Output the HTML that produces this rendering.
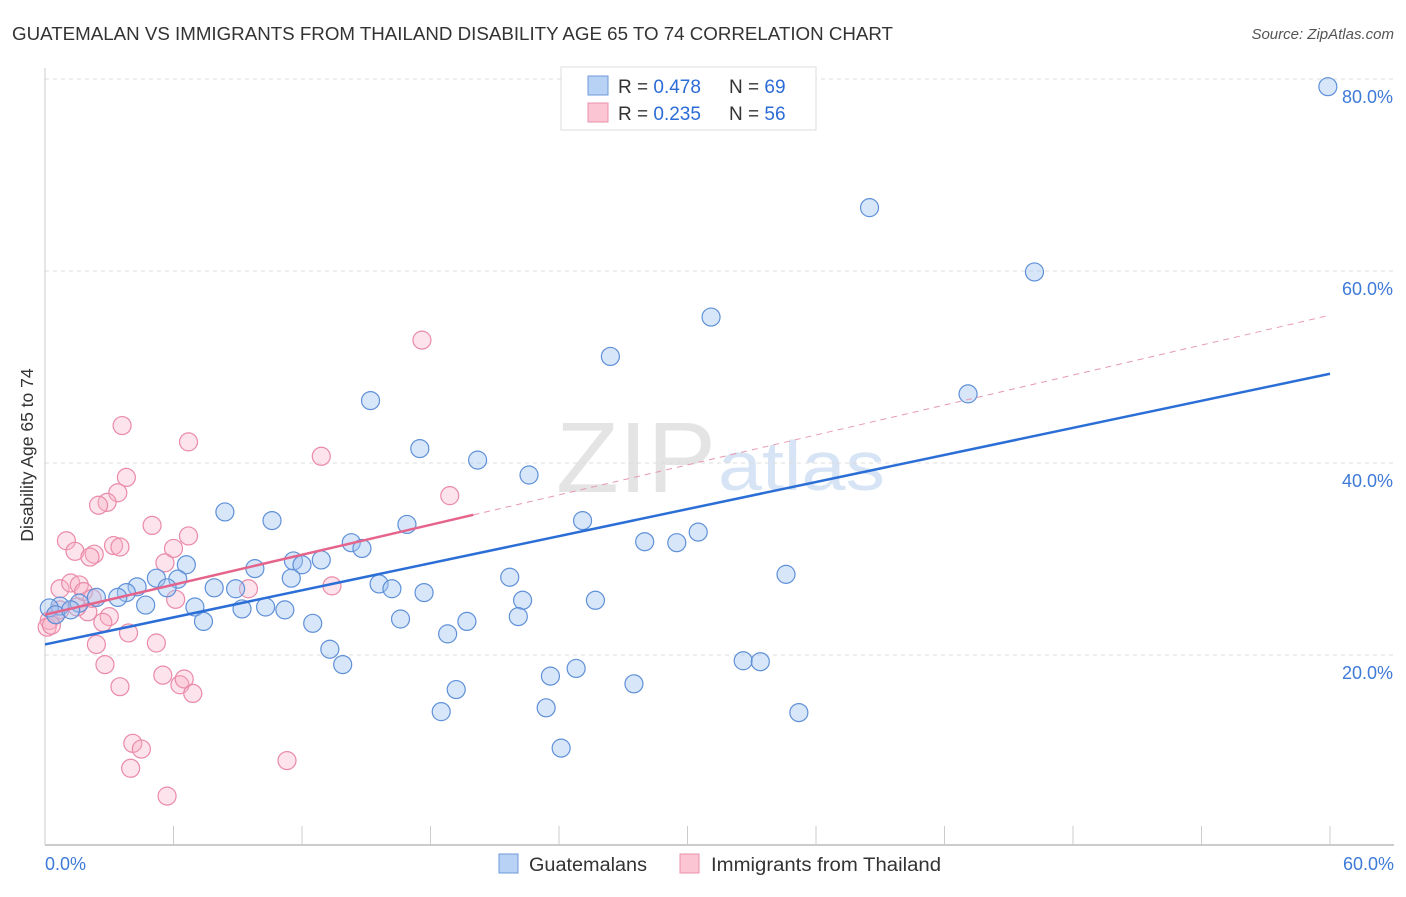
<!DOCTYPE html>
<html><head><meta charset="utf-8"><style>
body{margin:0;background:#fff;font-family:"Liberation Sans",sans-serif}
svg text{font-family:"Liberation Sans",sans-serif}
</style></head><body>
<svg id="c" width="1406" height="892" viewBox="0 0 1406 892" xmlns="http://www.w3.org/2000/svg">
<text x="12" y="40" font-size="18" textLength="881" lengthAdjust="spacingAndGlyphs" fill="#333">GUATEMALAN VS IMMIGRANTS FROM THAILAND DISABILITY AGE 65 TO 74 CORRELATION CHART</text>
<text x="1394" y="39" font-size="15" fill="#555" font-style="italic" text-anchor="end">Source: ZipAtlas.com</text>
<text x="716" y="492" font-size="100" fill="#e4e4e4" text-anchor="end" font-family="Liberation Serif" textLength="160" lengthAdjust="spacingAndGlyphs">ZIP</text>
<text x="718" y="490" font-size="70" fill="#d6e4f5" textLength="167" lengthAdjust="spacingAndGlyphs">atlas</text>
<g id="grid"></g>
<g id="axes"></g>
<g id="marks"></g>
<text transform="translate(33,455) rotate(-90)" font-size="17.5" fill="#333" text-anchor="middle">Disability Age 65 to 74</text>
<g>
<rect x="561" y="67" width="255" height="63" fill="#fff" stroke="#ddd"/>
<rect x="588" y="76" width="20" height="19" fill="#b8d2f5" stroke="#6e9ad8"/>
<text x="618" y="93" font-size="19" fill="#333">R = <tspan fill="#2b6cd6">0.478</tspan></text>
<text x="729" y="93" font-size="19" fill="#333">N = <tspan fill="#2b6cd6">69</tspan></text>
<rect x="588" y="103" width="20" height="19" fill="#fcc5d4" stroke="#e890aa"/>
<text x="618" y="120" font-size="19" fill="#333">R = <tspan fill="#2b6cd6">0.235</tspan></text>
<text x="729" y="120" font-size="19" fill="#333">N = <tspan fill="#2b6cd6">56</tspan></text>
</g>
<g>
<rect x="499" y="854" width="19" height="19" fill="#b8d2f5" stroke="#6e9ad8"/>
<text x="529" y="871" font-size="19" fill="#333" textLength="118" lengthAdjust="spacingAndGlyphs">Guatemalans</text>
<rect x="680" y="854" width="19" height="19" fill="#fcc5d4" stroke="#e890aa"/>
<text x="711" y="871" font-size="19" fill="#333" textLength="230" lengthAdjust="spacingAndGlyphs">Immigrants from Thailand</text>
</g>
</svg>
<script>
const xTicks=[0,6,12,18,24,30,36,42,48,54,60];
const yTicks=[20,40,60,80];
const blueX=[59.9,38.5,46.2,31.1,26.4,43.1,15.2,17.5,20.2,22.6,8.4,10.6,16.9,25.1,28.0,29.5,30.5,14.3,14.8,11.6,12.9,6.6,9.8,12.0,5.2,6.2,11.5,21.7,34.6,4.3,5.7,7.9,8.9,15.6,16.2,17.7,3.8,3.4,2.4,22.3,25.7,4.7,7.0,9.2,10.3,11.2,1.6,0.7,7.4,12.5,16.6,19.7,22.1,18.8,13.3,13.9,32.6,33.4,24.8,23.6,27.5,19.2,18.5,23.4,35.2,24.1,0.2,0.5,1.2];
const blueY=[79.2,66.6,59.9,55.2,51.1,47.2,46.5,41.5,40.3,38.75,34.9,34.0,33.6,34.0,31.8,31.7,32.8,31.7,31.1,29.8,29.9,29.4,29.0,29.4,28.0,27.9,28.0,28.1,28.4,27.1,27.0,27.0,26.9,27.4,26.9,26.5,26.5,26.0,26.0,25.7,25.7,25.2,25.0,24.8,25.0,24.7,25.4,25.1,23.5,23.3,23.75,23.5,24.0,22.2,20.6,19.0,19.4,19.3,18.6,17.8,17.0,16.4,14.1,14.5,14.0,10.3,24.9,24.2,24.7];
const pinkX=[17.6,3.6,6.7,12.9,18.9,3.8,3.4,2.9,2.5,5.0,6.7,1.0,1.4,2.3,2.1,3.2,3.5,6.0,5.6,9.5,13.4,0.7,1.2,1.6,1.8,6.1,2.0,1.5,3.0,2.7,3.9,2.4,5.2,2.8,3.5,5.5,6.3,6.5,6.9,4.1,4.5,4.0,11.3,5.7,0.2,0.1,0.5,0.7,0.3,2.2];
const pinkY=[52.8,43.9,42.2,40.7,36.6,38.5,36.9,35.9,35.6,33.5,32.4,31.9,30.8,30.5,30.2,31.4,31.25,31.1,29.6,26.9,27.2,26.9,27.5,27.3,26.6,25.8,24.5,25.0,24.0,23.4,22.3,21.1,21.25,19.0,16.7,17.9,16.9,17.5,16.0,10.8,10.2,8.2,9.0,5.3,23.6,22.9,24.2,24.7,23.1,25.9];
const blueTrend=[21.1,49.3];
const pinkTrend=[24.2,55.4];
const pinkSolidEnd=20;
const NS="http://www.w3.org/2000/svg";
const X=v=>45+v/60*1285, Y=v=>847-v*9.6;
function mk(tag,attrs,parent){const e=document.createElementNS(NS,tag);for(const k in attrs)e.setAttribute(k,attrs[k]);parent.appendChild(e);return e;}
const grid=document.getElementById('grid'),axes=document.getElementById('axes'),marks=document.getElementById('marks');
yTicks.forEach(t=>{
 const l=mk('line',{x1:45,x2:1394,y1:Y(t),y2:Y(t),stroke:'#ddd','stroke-dasharray':'4,4'},grid);
 
 
 const tx=mk('text',{x:1393,y:Y(t)+24,'font-size':18,fill:'#3d7ad8','text-anchor':'end'},grid);tx.textContent=t.toFixed(1)+'%';
 
 
});
const ax=mk('line',{x1:45,x2:1394,y1:845,y2:845,stroke:'#bbb','stroke-width':1.5},axes);


const ay=mk('line',{x1:45,x2:45,y1:68,y2:845,stroke:'#ccc'},axes);


xTicks.forEach(t=>{const l=mk('line',{x1:X(t),x2:X(t),y1:826,y2:845,stroke:'#ccc'},axes);
 
 });
[[0,'start'],[60,'end']].forEach(([v,a])=>{const tx=mk('text',{x:v?1394:45,y:870,'font-size':18,fill:'#3d7ad8','text-anchor':a},axes);tx.textContent=v.toFixed(1)+'%';
 
 });
pinkX.forEach((v,i)=>{const c=mk('circle',{cx:X(v),cy:Y(pinkY[i]),r:9,fill:'rgba(248,175,198,0.35)',stroke:'#ea8aa8','stroke-width':1.2},marks);
 
 });
blueX.forEach((v,i)=>{const c=mk('circle',{cx:X(v),cy:Y(blueY[i]),r:9,fill:'rgba(160,196,240,0.42)',stroke:'#5f90d8','stroke-width':1.2},marks);
 
 });
const bl=mk('line',{x1:X(0),y1:Y(blueTrend[0]),x2:X(60),y2:Y(blueTrend[1]),stroke:'#2a6ed6','stroke-width':2.5},marks);


const pAt=v=>pinkTrend[0]+(pinkTrend[1]-pinkTrend[0])*v/60;
const pd=mk('line',{x1:X(pinkSolidEnd),y1:Y(pAt(pinkSolidEnd)),x2:X(60),y2:Y(pinkTrend[1]),stroke:'#e799b2','stroke-width':1,'stroke-dasharray':'6,5'},marks);


const ps=mk('line',{x1:X(0),y1:Y(pinkTrend[0]),x2:X(pinkSolidEnd),y2:Y(pAt(pinkSolidEnd)),stroke:'#e4648c','stroke-width':2.5},marks);


</script>
</body></html>
